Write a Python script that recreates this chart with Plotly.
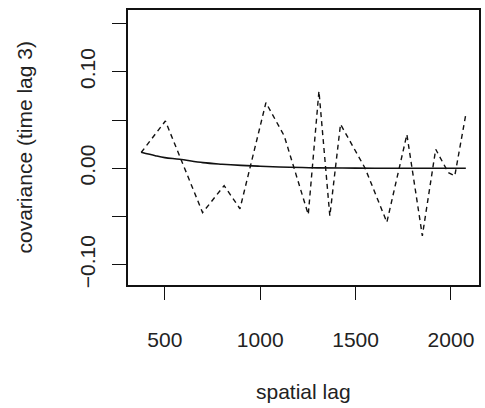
import plotly.graph_objects as go

# empirical covariance (dashed)
emp_lag = [376, 503, 698, 811, 894, 1030, 1126, 1252, 1308, 1365, 1421, 1550, 1664, 1769, 1850, 1920, 1986, 2020, 2078]
emp_cov = [0.0163, 0.049, -0.046, -0.018, -0.042, 0.068, 0.0335, -0.048, 0.080, -0.0495, 0.0456, 0.0, -0.056, 0.035, -0.070, 0.0197, -0.0045, -0.008, 0.056]

# fitted covariance model (solid)
fit_lag = [376, 450, 500, 578, 700, 800, 900, 1000, 1100, 1221, 1300, 1500, 1700, 1900, 2078]
fit_cov = [0.0165, 0.013, 0.011, 0.0093, 0.0058, 0.0042, 0.003, 0.0021, 0.0013, 0.0007, 0.0004, 0.0001, 0.0, 0.0, 0.0]

x_ticks = [500, 1000, 1500, 2000]
y_ticks = [-0.10, -0.05, 0.00, 0.05, 0.10, 0.15]
y_ticktext = ["\u22120.10", "", "0.00", "", "0.10", ""]

FONT = "Liberation Sans, Arial, sans-serif"
TXT = "#222222"

fig = go.Figure()
fig.add_trace(go.Scatter(x=emp_lag, y=emp_cov, mode="lines",
                         line=dict(color="#111111", width=1.4, dash="5px,4px"),
                         showlegend=False))
fig.add_trace(go.Scatter(x=fit_lag, y=fit_cov, mode="lines",
                         line=dict(color="#111111", width=1.6, shape="spline"),
                         showlegend=False))

fig.update_layout(
    width=485, height=408,
    margin=dict(l=128, r=4, t=10, b=123),
    paper_bgcolor="white", plot_bgcolor="white",
    font=dict(family=FONT, size=21, color=TXT),
    xaxis=dict(range=[307, 2147], tickvals=x_ticks, ticktext=[str(v) for v in x_ticks],
               ticks="outside", ticklen=13, tickwidth=1.3, tickcolor="#111111",
               showline=True, linecolor="#111111", linewidth=1.5, mirror=True,
               showgrid=False, zeroline=False, ticklabelstandoff=22),
    yaxis=dict(range=[-0.121, 0.164], tickvals=y_ticks, ticktext=y_ticktext,
               ticks="outside", ticklen=14, tickwidth=1.3, tickcolor="#111111",
               tickangle=-90,
               showline=True, linecolor="#111111", linewidth=1.5, mirror=True,
               showgrid=False, zeroline=False, ticklabelstandoff=9),
    annotations=[
        dict(text="spatial lag", xref="paper", yref="paper", x=0.5, y=0,
             yshift=-106, xanchor="center", yanchor="middle", showarrow=False,
             font=dict(family=FONT, size=21, color=TXT)),
        dict(text="covariance (time lag 3)", xref="paper", yref="paper", x=0, y=0.5,
             xshift=-104, xanchor="center", yanchor="middle", showarrow=False,
             textangle=-90, font=dict(family=FONT, size=21, color=TXT)),
    ],
)

fig.write_html("out.html")
